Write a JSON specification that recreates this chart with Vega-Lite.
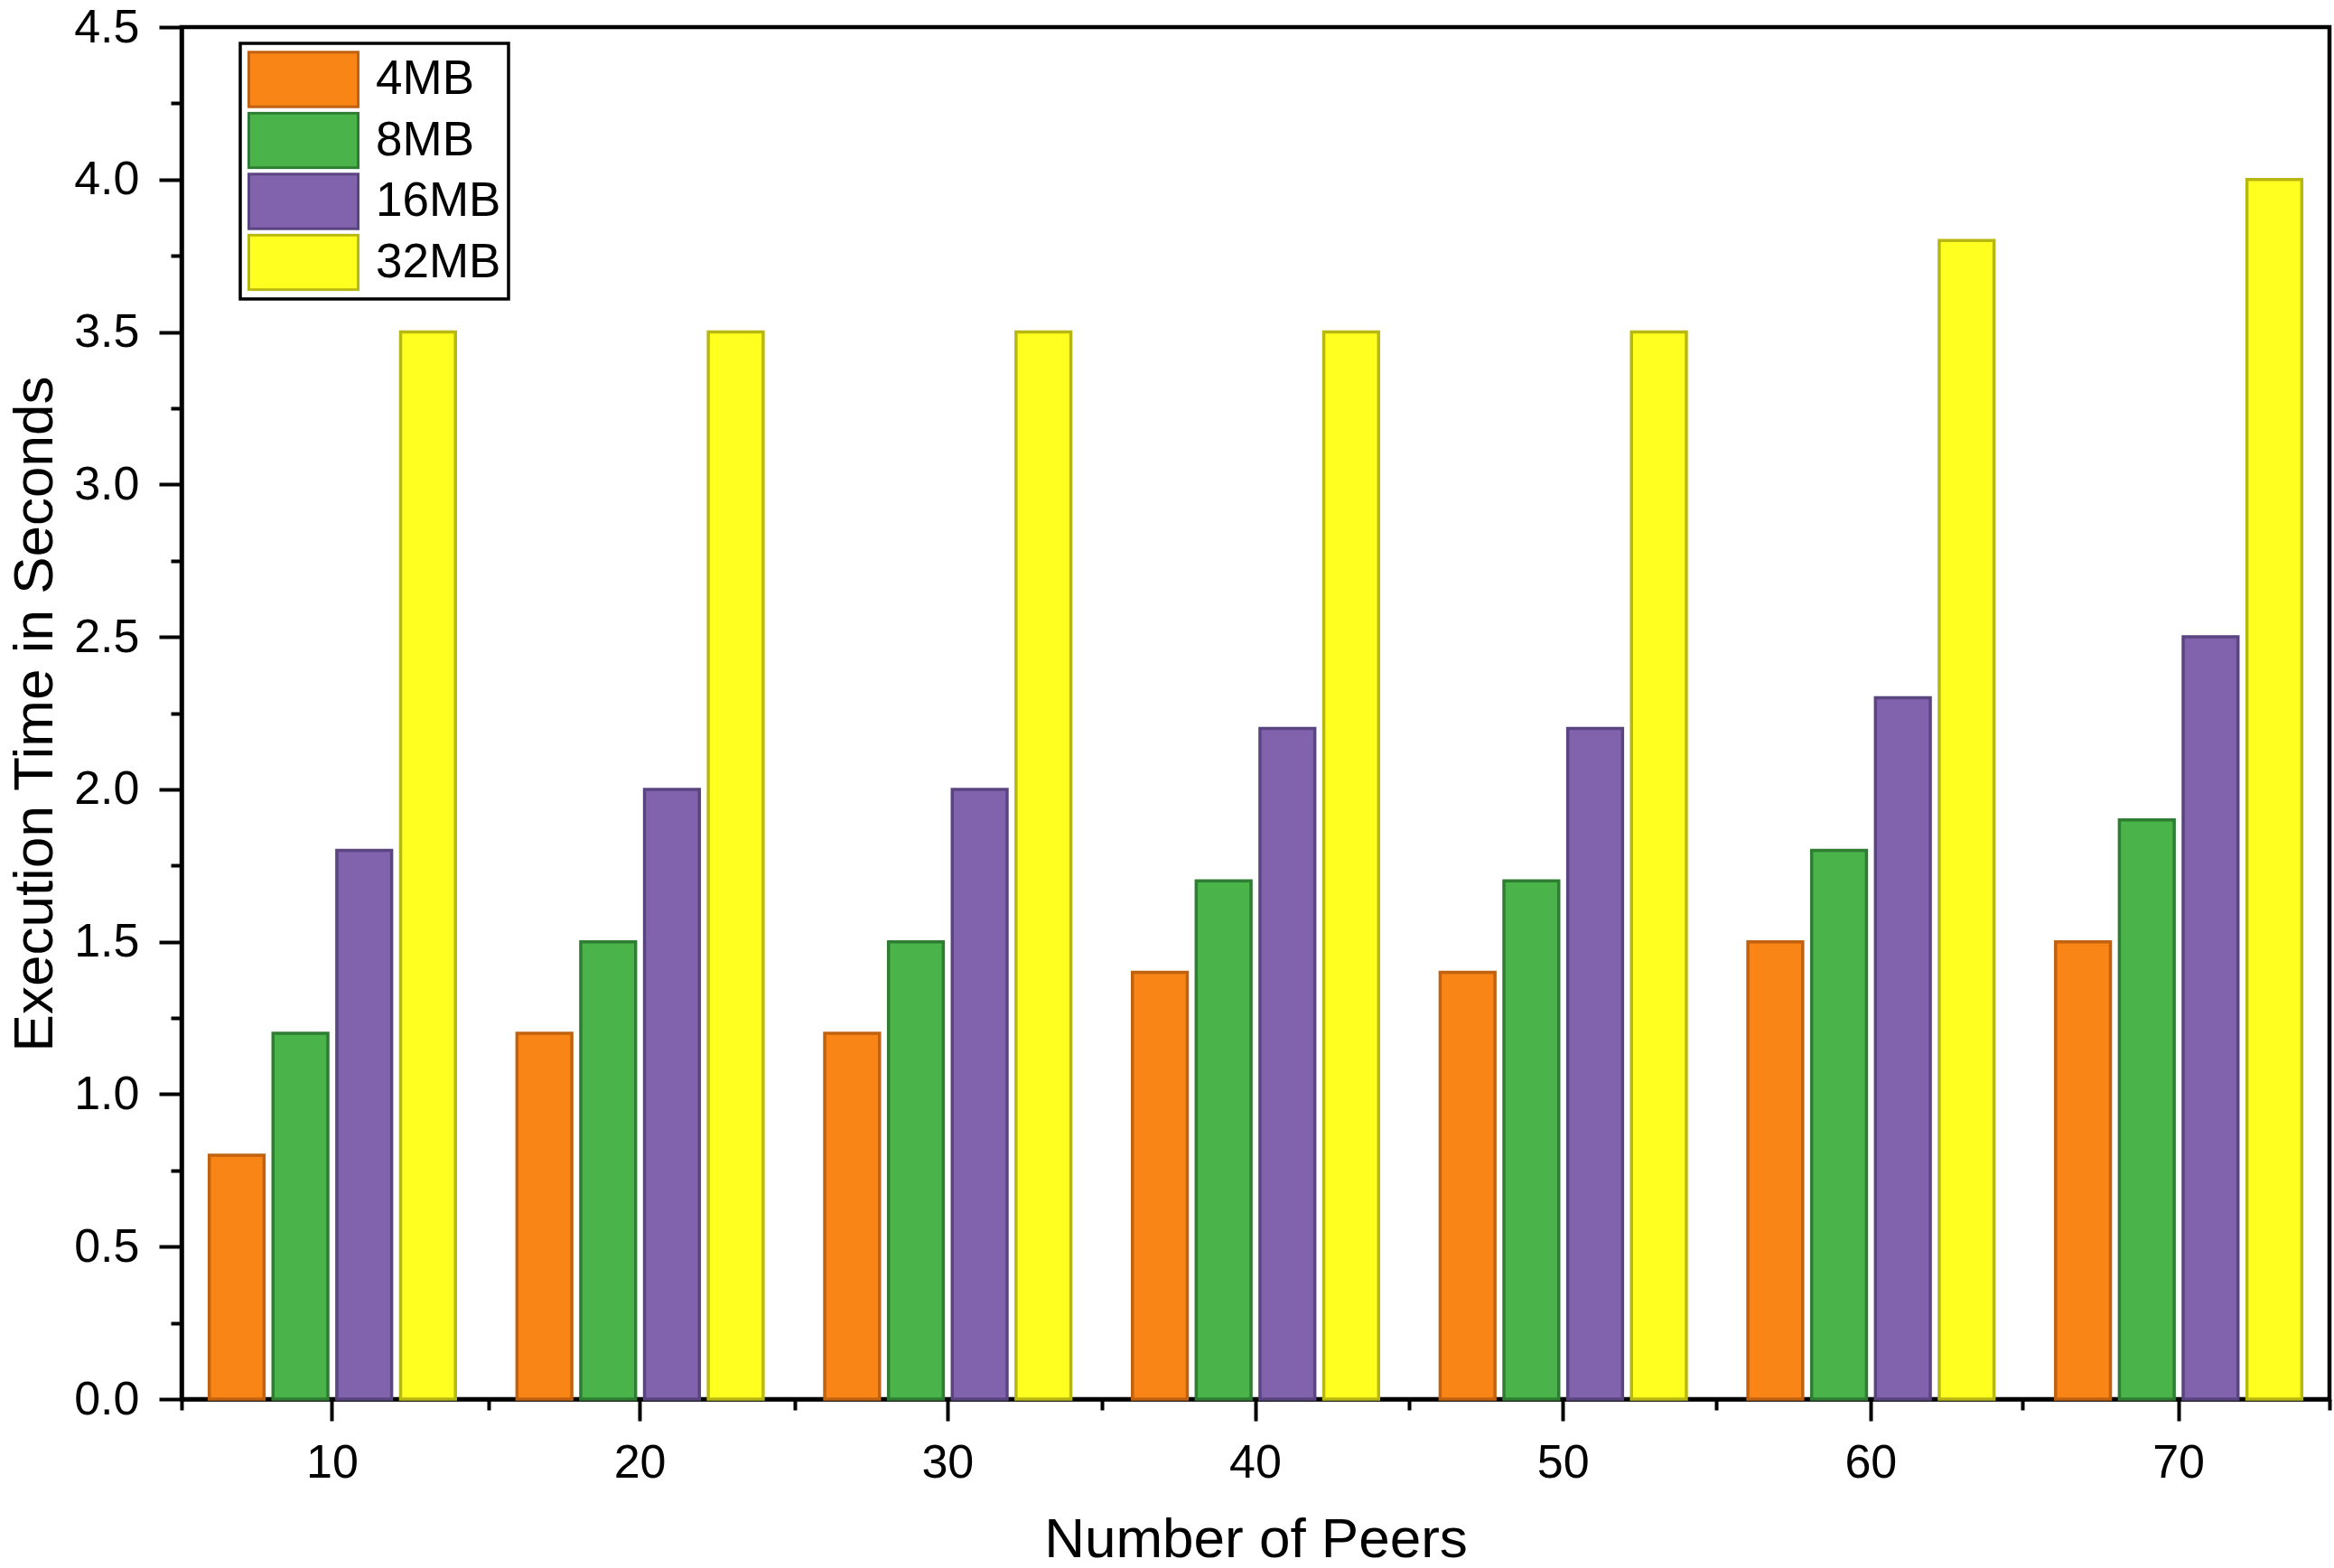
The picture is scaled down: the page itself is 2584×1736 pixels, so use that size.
{
  "$schema": "https://vega.github.io/schema/vega-lite/v6.json",
  "description": "Execution time by number of peers and block size.",
  "width": 2378,
  "height": 1519,
  "autosize": {"type": "none"},
  "padding": {"left": 201, "top": 30, "right": 5, "bottom": 187},
  "background": "white",
  "config": {
    "font": "Liberation Sans",
    "view": {"stroke": "black", "strokeWidth": 4.5},
    "axis": {
      "grid": false,
      "domainColor": "black",
      "domainWidth": 4.5,
      "tickColor": "black",
      "tickWidth": 4,
      "labelColor": "black",
      "titleColor": "black",
      "labelFont": "Liberation Sans",
      "titleFont": "Liberation Sans",
      "labelFontSize": 52,
      "titleFontSize": 62,
      "titleFontWeight": "normal"
    },
    "legend": {"strokeWidth": 3.5}
  },
  "data": {
    "values": [
      {"Peers": 10, "Size": "4MB", "Time": 0.8},
      {"Peers": 10, "Size": "8MB", "Time": 1.2},
      {"Peers": 10, "Size": "16MB", "Time": 1.8},
      {"Peers": 10, "Size": "32MB", "Time": 3.5},
      {"Peers": 20, "Size": "4MB", "Time": 1.2},
      {"Peers": 20, "Size": "8MB", "Time": 1.5},
      {"Peers": 20, "Size": "16MB", "Time": 2.0},
      {"Peers": 20, "Size": "32MB", "Time": 3.5},
      {"Peers": 30, "Size": "4MB", "Time": 1.2},
      {"Peers": 30, "Size": "8MB", "Time": 1.5},
      {"Peers": 30, "Size": "16MB", "Time": 2.0},
      {"Peers": 30, "Size": "32MB", "Time": 3.5},
      {"Peers": 40, "Size": "4MB", "Time": 1.4},
      {"Peers": 40, "Size": "8MB", "Time": 1.7},
      {"Peers": 40, "Size": "16MB", "Time": 2.2},
      {"Peers": 40, "Size": "32MB", "Time": 3.5},
      {"Peers": 50, "Size": "4MB", "Time": 1.4},
      {"Peers": 50, "Size": "8MB", "Time": 1.7},
      {"Peers": 50, "Size": "16MB", "Time": 2.2},
      {"Peers": 50, "Size": "32MB", "Time": 3.5},
      {"Peers": 60, "Size": "4MB", "Time": 1.5},
      {"Peers": 60, "Size": "8MB", "Time": 1.8},
      {"Peers": 60, "Size": "16MB", "Time": 2.3},
      {"Peers": 60, "Size": "32MB", "Time": 3.8},
      {"Peers": 70, "Size": "4MB", "Time": 1.5},
      {"Peers": 70, "Size": "8MB", "Time": 1.9},
      {"Peers": 70, "Size": "16MB", "Time": 2.5},
      {"Peers": 70, "Size": "32MB", "Time": 4.0}
    ]
  },
  "layer": [
    {
      "mark": {"type": "bar", "strokeWidth": 3.5},
      "encoding": {
        "x": {
          "field": "Peers",
          "type": "ordinal",
          "scale": {"paddingInner": 0.2, "paddingOuter": 0.09},
          "axis": {
            "labelAngle": 0,
            "tickSize": 24,
            "labelPadding": 62,
            "labelBaseline": "alphabetic",
            "title": "Number of Peers",
            "titleY": 174,
            "titleBaseline": "alphabetic"
          }
        },
        "xOffset": {
          "field": "Size",
          "sort": ["4MB", "8MB", "16MB", "32MB"],
          "scale": {"paddingInner": 0.14, "paddingOuter": 0}
        },
        "y": {
          "field": "Time",
          "type": "quantitative",
          "scale": {"domain": [0, 4.5], "nice": false},
          "axis": {
            "values": [0, 0.5, 1, 1.5, 2, 2.5, 3, 3.5, 4, 4.5],
            "format": ".1f",
            "tickSize": 25,
            "labelPadding": 22,
            "title": "Execution Time in Seconds",
            "titleX": -144,
            "titleY": 760,
            "titleBaseline": "alphabetic"
          }
        },
        "color": {
          "field": "Size",
          "type": "nominal",
          "scale": {
            "domain": ["4MB", "8MB", "16MB", "32MB"],
            "range": ["#F98517", "#4AB44A", "#8162AC", "#FFFF20"]
          },
          "legend": {
            "orient": "none",
            "legendX": 65,
            "legendY": 18,
            "title": null,
            "symbolType": "M-1,-0.5H1V0.5H-1Z",
            "symbolSize": 14641,
            "symbolStrokeWidth": 3,
            "clipHeight": 64,
            "rowPadding": 3.5,
            "labelFontSize": 53,
            "labelColor": "black",
            "labelOffset": 18,
            "padding": 8,
            "strokeColor": "black",
            "fillColor": "white"
          }
        },
        "stroke": {
          "field": "Size",
          "type": "nominal",
          "scale": {
            "domain": ["4MB", "8MB", "16MB", "32MB"],
            "range": ["#C0620F", "#2E7D32", "#5B4580", "#B8B812"]
          },
          "legend": {
            "orient": "none",
            "legendX": 65,
            "legendY": 18,
            "title": null,
            "symbolType": "M-1,-0.5H1V0.5H-1Z",
            "symbolSize": 14641,
            "symbolStrokeWidth": 3,
            "clipHeight": 64,
            "rowPadding": 3.5,
            "labelFontSize": 53,
            "labelColor": "black",
            "labelOffset": 18,
            "padding": 8,
            "strokeColor": "black",
            "fillColor": "white"
          }
        }
      }
    },
    {
      "mark": {"type": "point", "opacity": 0},
      "encoding": {
        "x": {
          "field": "Peers",
          "type": "quantitative",
          "scale": {"domain": [5, 75], "nice": false, "zero": false},
          "axis": {
            "orient": "bottom",
            "values": [5, 15, 25, 35, 45, 55, 65, 75],
            "tickSize": 12,
            "labels": false,
            "domain": false,
            "title": null
          }
        },
        "y": {
          "field": "Time",
          "type": "quantitative",
          "axis": {
            "orient": "left",
            "values": [0.25, 0.75, 1.25, 1.75, 2.25, 2.75, 3.25, 3.75, 4.25],
            "tickSize": 12,
            "labels": false,
            "domain": false,
            "title": null
          }
        }
      }
    }
  ],
  "resolve": {"scale": {"x": "independent"}, "axis": {"y": "independent"}}
}
